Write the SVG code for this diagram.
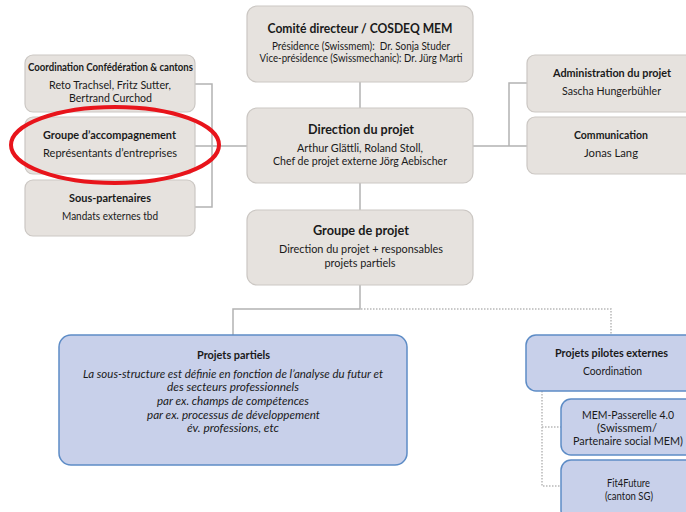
<svg xmlns="http://www.w3.org/2000/svg" width="686" height="512" viewBox="0 0 686 512">
<style>
text{font-family:Lato,"Open Sans","Liberation Sans",sans-serif;fill:#1a1a1a;text-anchor:middle}
.g{fill:#e6e2de;stroke:#cbc7c3;stroke-width:1.2}
.b{fill:#c8d0ea;stroke:#5d8cc6;stroke-width:1.5}
.t{font-weight:bold;font-size:14px}
.s{font-size:11px}
.st{font-weight:bold;font-size:11px}
.i{font-style:italic;font-size:11px}
.c{fill:none;stroke:#b3b3b3;stroke-width:1.5}
.d{fill:none;stroke:#b8b8b8;stroke-width:1.5;stroke-dasharray:1.5 1.5}
</style>
<rect width="686" height="512" fill="#fff"/>
<g id="connectors">
<path class="c" d="M360 82V108M360 183V210M360 285V309H233V335"/>
<path class="c" d="M195 84H212V207H195M195 146H248"/>
<path class="c" d="M473 146H527M509 146V83H527"/>
<path class="d" d="M361 309H611V334"/>
<path class="d" d="M542 391V486H561M542 427H561"/>
</g>
<g id="comite">
<rect class="g" x="247" y="6" width="226" height="76" rx="10"/>
<text class="t" x="360" y="33" textLength="185" lengthAdjust="spacingAndGlyphs">Comité directeur / COSDEQ MEM</text>
<text class="s" x="361" y="50" textLength="178" lengthAdjust="spacingAndGlyphs" xml:space="preserve">Présidence (Swissmem):  Dr. Sonja Studer</text>
<text class="s" x="361" y="62" textLength="203" lengthAdjust="spacingAndGlyphs">Vice-présidence (Swissmechanic): Dr. Jürg Marti</text>
</g>
<g id="direction">
<rect class="g" x="247" y="108" width="226" height="75" rx="10"/>
<text class="t" x="361" y="134" textLength="106" lengthAdjust="spacingAndGlyphs">Direction du projet</text>
<text class="s" x="360" y="152" textLength="126" lengthAdjust="spacingAndGlyphs">Arthur Glättli, Roland Stoll,</text>
<text class="s" x="360" y="165" textLength="174" lengthAdjust="spacingAndGlyphs">Chef de projet externe Jörg Aebischer</text>
</g>
<g id="groupe-projet">
<rect class="g" x="247" y="210" width="226" height="75" rx="10"/>
<text class="t" x="361" y="235" textLength="96" lengthAdjust="spacingAndGlyphs">Groupe de projet</text>
<text class="s" x="361" y="253" textLength="164" lengthAdjust="spacingAndGlyphs">Direction du projet + responsables</text>
<text class="s" x="360" y="267" textLength="71" lengthAdjust="spacingAndGlyphs">projets partiels</text>
</g>
<g id="coordination">
<rect class="g" x="25" y="55" width="170" height="57" rx="8"/>
<text class="st" x="110.5" y="71" textLength="165" lengthAdjust="spacingAndGlyphs">Coordination Confédération &amp; cantons</text>
<text class="s" x="110" y="89" textLength="122" lengthAdjust="spacingAndGlyphs">Reto Trachsel, Fritz Sutter,</text>
<text class="s" x="110.5" y="102" textLength="83" lengthAdjust="spacingAndGlyphs">Bertrand Curchod</text>
</g>
<g id="accompagnement">
<rect class="g" x="25" y="117" width="170" height="57" rx="8"/>
<text class="st" x="109.5" y="139" textLength="133" lengthAdjust="spacingAndGlyphs">Groupe d’accompagnement</text>
<text class="s" x="110" y="157" textLength="134" lengthAdjust="spacingAndGlyphs">Représentants d’entreprises</text>
</g>
<g id="sous-partenaires">
<rect class="g" x="25" y="180" width="170" height="56" rx="8"/>
<text class="st" x="110" y="202" textLength="82" lengthAdjust="spacingAndGlyphs">Sous-partenaires</text>
<text class="s" x="110" y="220" textLength="96" lengthAdjust="spacingAndGlyphs">Mandats externes tbd</text>
</g>
<g id="administration">
<rect class="g" x="527" y="55" width="170" height="57" rx="8"/>
<text class="st" x="612" y="77" textLength="118" lengthAdjust="spacingAndGlyphs">Administration du projet</text>
<text class="s" x="611.5" y="95" textLength="99" lengthAdjust="spacingAndGlyphs">Sascha Hungerbühler</text>
</g>
<g id="communication">
<rect class="g" x="527" y="117" width="170" height="57" rx="8"/>
<text class="st" x="611" y="139" textLength="74" lengthAdjust="spacingAndGlyphs">Communication</text>
<text class="s" x="611" y="157" textLength="54" lengthAdjust="spacingAndGlyphs">Jonas Lang</text>
</g>
<g id="projets-partiels">
<rect class="b" x="59" y="335" width="348" height="130" rx="12"/>
<text class="st" x="233.5" y="359" textLength="73" lengthAdjust="spacingAndGlyphs">Projets partiels</text>
<text class="i" x="233" y="378" textLength="300" lengthAdjust="spacingAndGlyphs">La sous-structure est définie en fonction de l’analyse du futur et</text>
<text class="i" x="233" y="391" textLength="132" lengthAdjust="spacingAndGlyphs">des secteurs professionnels</text>
<text class="i" x="233" y="405" textLength="152" lengthAdjust="spacingAndGlyphs">par ex. champs de compétences</text>
<text class="i" x="233.5" y="419" textLength="173" lengthAdjust="spacingAndGlyphs">par ex. processus de développement</text>
<text class="i" x="233" y="432" textLength="92" lengthAdjust="spacingAndGlyphs">év. professions, etc</text>
</g>
<g id="projets-pilotes">
<rect class="b" x="526" y="335" width="172" height="56" rx="10"/>
<text class="st" x="611.5" y="357" textLength="113" lengthAdjust="spacingAndGlyphs">Projets pilotes externes</text>
<text class="s" x="612.5" y="375" textLength="59" lengthAdjust="spacingAndGlyphs">Coordination</text>
</g>
<g id="mem-passerelle">
<rect class="b" x="561" y="399" width="136" height="56" rx="10"/>
<text class="s" x="628" y="419" textLength="92" lengthAdjust="spacingAndGlyphs">MEM-Passerelle 4.0</text>
<text class="s" x="627" y="432" textLength="60" lengthAdjust="spacingAndGlyphs">(Swissmem/</text>
<text class="s" x="628" y="445" textLength="110" lengthAdjust="spacingAndGlyphs">Partenaire social MEM)</text>
</g>
<g id="fit4future">
<rect class="b" x="561" y="460" width="136" height="60" rx="10"/>
<text class="s" x="628.5" y="487" textLength="43" lengthAdjust="spacingAndGlyphs">Fit4Future</text>
<text class="s" x="629" y="500" textLength="48" lengthAdjust="spacingAndGlyphs">(canton SG)</text>
</g>
<g id="highlight">
<ellipse cx="115" cy="145" rx="104" ry="38" fill="none" stroke="#e8141b" stroke-width="4"/>
</g>
</svg>
